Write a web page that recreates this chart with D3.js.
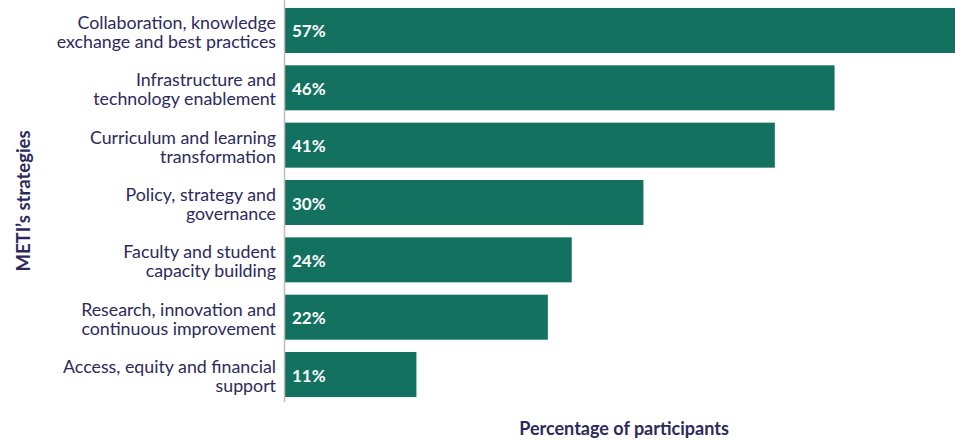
<!DOCTYPE html>
<html>
<head>
<meta charset="utf-8">
<script src="https://cdn.jsdelivr.net/npm/d3@7"></script>
<style>
  html, body { margin: 0; padding: 0; background: #fff; }
  svg { display: block; font-family: "Lato", "Noto Sans", sans-serif; }
</style>
</head>
<body>
<svg id="chart" width="955" height="440"></svg>
<script>
// Share of participants naming each of METI's strategies
const strategies = [
  ["Collaboration, knowledge", "exchange and best practices"],
  ["Infrastructure and", "technology enablement"],
  ["Curriculum and learning", "transformation"],
  ["Policy, strategy and", "governance"],
  ["Faculty and student", "capacity building"],
  ["Research, innovation and", "continuous improvement"],
  ["Access, equity and financial", "support"]
];
const percentages = [57, 46, 41, 30, 24, 22, 11];
const axisTitleX = "Percentage of participants";
const axisTitleY = "METI\u2019s strategies";

const svg = d3.select("#chart");
const barColor = "#12725f";
const textColor = "#2c2a5c";

const x0 = 285;
const x = d3.scaleLinear().domain([0, 57]).range([x0, 966]);
const y = d3.scaleBand()
  .domain(d3.range(strategies.length))
  .range([1.8, 403.2])
  .paddingInner(0.215)
  .paddingOuter(0.1075);

// bars
svg.append("g").selectAll("rect")
  .data(percentages)
  .join("rect")
  .attr("x", x(0))
  .attr("y", (d, i) => y(i))
  .attr("width", d => x(d) - x(0))
  .attr("height", y.bandwidth())
  .attr("fill", barColor);

// value labels inside bars
svg.append("g").selectAll("text")
  .data(percentages)
  .join("text")
  .attr("x", x(0) + 7)
  .attr("y", (d, i) => y(i) + y.bandwidth() / 2 + 7)
  .attr("fill", "#fff")
  .attr("font-size", 17)
  .attr("font-weight", 700)
  .text(d => d + "%");

// category labels, two lines per strategy
const labelGroups = svg.append("g").selectAll("g")
  .data(strategies)
  .join("g");
labelGroups.each(function(lines, i) {
  const g = d3.select(this);
  const cy = y(i) + y.bandwidth() / 2;
  lines.forEach((line, k) => {
    g.append("text")
      .attr("x", 276)
      .attr("y", cy - 1.5 + k * 19)
      .attr("text-anchor", "end")
      .attr("fill", textColor)
      .attr("font-size", 17.8)
      .text(line);
  });
});

// vertical baseline
svg.append("line")
  .attr("x1", x0 - 0.5).attr("x2", x0 - 0.5)
  .attr("y1", 0).attr("y2", 402)
  .attr("stroke", "#bdbdbd")
  .attr("stroke-width", 1.5);

// axis titles
svg.append("text")
  .attr("x", 624)
  .attr("y", 435)
  .attr("text-anchor", "middle")
  .attr("fill", textColor)
  .attr("font-size", 18)
  .attr("font-weight", 700)
  .text(axisTitleX);

svg.append("text")
  .attr("transform", "translate(30,201) rotate(-90)")
  .attr("text-anchor", "middle")
  .attr("fill", textColor)
  .attr("font-size", 18.5)
  .attr("font-weight", 700)
  .text(axisTitleY);
</script>
</body>
</html>
